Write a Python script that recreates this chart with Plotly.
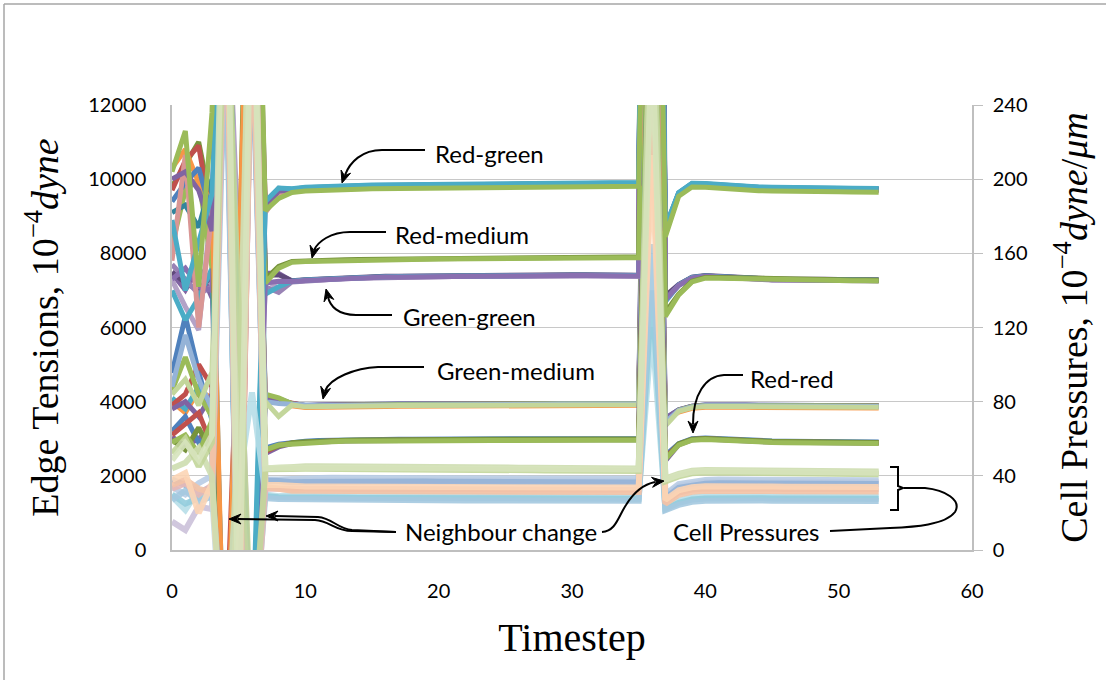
import math
import plotly.graph_objects as go

# ---------------- data ----------------
timesteps = list(range(54))
x_ticks = [0, 10, 20, 30, 40, 50, 60]
y_ticks = [0, 2000, 4000, 6000, 8000, 10000, 12000]
y2_ticks = [0, 40, 80, 120, 160, 200, 240]

# settled group profiles (edge tensions, 1e-4 dyne): t = 9..35 and t = 38..53
red_green_before = [9700, 9740, 9760, 9770, 9780, 9790, 9800, 9805, 9810, 9815, 9820, 9825, 9830, 9835,
                    9840, 9845, 9850, 9855, 9860, 9860, 9865, 9865, 9870, 9870, 9870, 9870, 9870]
red_green_after = [9600, 9850, 9840, 9810, 9790, 9770, 9750, 9740, 9730, 9730, 9730, 9720, 9720, 9715, 9710, 9710]
red_medium_before = [7780, 7800, 7810, 7820, 7830, 7835, 7840, 7845, 7850, 7855, 7860, 7865, 7870, 7875,
                     7880, 7880, 7885, 7890, 7890, 7895, 7900, 7900, 7900, 7905, 7900, 7900, 7900]
red_medium_after = [6900, 7250, 7350, 7350, 7340, 7330, 7320, 7310, 7300, 7290, 7290, 7290, 7285, 7280, 7280, 7275]
green_green_before = [7250, 7280, 7300, 7320, 7340, 7350, 7360, 7370, 7375, 7380, 7385, 7390, 7395, 7400,
                      7400, 7405, 7410, 7410, 7410, 7415, 7410, 7410, 7410, 7410, 7405, 7400, 7400]
green_green_after = [7150, 7350, 7390, 7380, 7360, 7340, 7320, 7300, 7290, 7280, 7290, 7290, 7285, 7280, 7280, 7275]
green_medium_before = [3930, 3880, 3890, 3900, 3900, 3905, 3910, 3910, 3915, 3915, 3920, 3920, 3920, 3925,
                       3925, 3925, 3930, 3930, 3930, 3930, 3935, 3935, 3935, 3935, 3940, 3940, 3940]
green_medium_after = [3760, 3860, 3890, 3900, 3895, 3890, 3885, 3880, 3880, 3875, 3875, 3875, 3870, 3870, 3870, 3870]
red_red_before = [2880, 2910, 2930, 2940, 2950, 2955, 2960, 2960, 2965, 2965, 2970, 2970, 2970, 2975,
                  2975, 2975, 2975, 2980, 2980, 2980, 2980, 2980, 2980, 2980, 2980, 2980, 2980]
red_red_after = [2850, 2980, 3000, 2980, 2960, 2940, 2930, 2920, 2915, 2910, 2905, 2900, 2900, 2895, 2890, 2890]

# cell pressure profiles (1e-4 dyne/um)
p_green_before = [44.5, 44.6, 44.6, 44.5, 44.5, 44.4, 44.4, 44.3, 44.3, 44.2, 44.2, 44.1, 44.1, 44.0,
                  44.0, 43.9, 43.9, 43.8, 43.8, 43.7, 43.7, 43.6, 43.6, 43.5, 43.5, 43.4, 43.4]
p_green_after = [40.5, 42.2, 42.6, 42.5, 42.3, 42.2, 42.1, 42.0, 41.9, 41.9, 41.8, 41.8, 41.8, 41.7, 41.7, 41.7]
p_lavender_before = [37.5, 37.7, 37.8, 37.9, 37.9, 38.0, 38.0, 38.0, 37.9, 37.9, 37.9, 37.8, 37.8, 37.8,
                     37.7, 37.7, 37.7, 37.7, 37.6, 37.6, 37.6, 37.6, 37.5, 37.5, 37.5, 37.5, 37.4]
p_lavender_after = [34.5, 36.0, 36.8, 37.0, 37.0, 36.9, 36.9, 36.8, 36.8, 36.7, 36.7, 36.7, 36.6, 36.6, 36.6, 36.6]
p_peach_before = [33.2, 33.1, 33.0, 33.0, 32.9, 32.9, 32.9, 32.8, 32.8, 32.8, 32.8, 32.7, 32.7, 32.7,
                  32.7, 32.7, 32.6, 32.6, 32.6, 32.6, 32.6, 32.5, 32.5, 32.5, 32.5, 32.5, 32.5]
p_peach_after = [31.0, 32.6, 33.2, 33.3, 33.2, 33.1, 33.0, 33.0, 32.9, 32.9, 32.9, 32.8, 32.8, 32.8, 32.8, 32.8]
p_blue_before = [28.6, 28.4, 28.3, 28.2, 28.2, 28.1, 28.1, 28.0, 28.0, 28.0, 28.0, 27.9, 27.9, 27.9,
                 27.9, 27.9, 27.8, 27.8, 27.8, 27.8, 27.8, 27.8, 27.7, 27.7, 27.7, 27.7, 27.7]
p_blue_after = [25.5, 27.2, 27.8, 28.0, 28.0, 27.9, 27.9, 27.8, 27.8, 27.8, 27.7, 27.7, 27.7, 27.7, 27.6, 27.6]

# individual series: (colour, values t=0..8, offset, value t=36, value t=37)
green_medium_series = [
    ("#F79646", [4000, 3700, 4300, 4100, -4000, 3000, 17000, 4100, 4050], -40, 22000, 3500),
    ("#4F81BD", [4770, 6300, 4800, 3500, 18000, 7000, -5000, 4150, 4080], 20, 26000, 3550),
    ("#4BACC6", [4100, 3800, 4400, 3900, 15000, -4000, 19000, 4050, 4000], 0, 21000, 3450),
    ("#C0504D", [3900, 4200, 5000, 4400, -3000, 6500, 16000, 4100, 4020], 10, 24000, 3500),
    ("#8064A2", [3800, 4000, 3600, 4200, 13000, 3500, -6000, 4050, 4000], 20, 28000, 3550),
    ("#9BBB59", [4300, 5200, 4200, 3600, 20000, 4500, -4000, 4200, 4100], 10, 23000, 3400),
    ("#95B3D7", [4400, 5800, 4600, 3800, 14000, -3000, 15000, 4000, 3950], 0, 20000, 3450),
    ("#C3D69B", [4200, 4600, 3900, 4800, 17000, 6000, -3000, 4000, 3600], -20, 19000, 3350),
]
red_red_series = [
    ("#8064A2", [3055, 2800, 3000, 3300, -3000, 2500, 14000, 2600, 2780], -10, 23000, 2400),
    ("#4F81BD", [3200, 3600, 2900, 3100, 16000, 5000, -4000, 2750, 2850], 20, 21000, 2550),
    ("#C0504D", [3100, 3400, 3700, 2800, 19000, -5000, 15000, 2650, 2820], 0, 19000, 2500),
    ("#77933C", [2970, 2700, 3300, 2600, -5000, 3500, 18000, 2700, 2800], 10, 18000, 2450),
    ("#9BBB59", [2900, 3100, 2600, 3500, 15000, 6000, -5000, 2700, 2830], -20, 17000, 2450),
]
green_green_series = [
    ("#8064A2", [7460, 7010, 7640, 6800, 22000, -4000, 25000, 7470, 7460], 0, 70000, 6800),
    ("#B3A2C7", [7280, 6560, 5930, 9350, 17000, 8000, -4000, 7300, 7050], -10, 60000, 6700),
    ("#604A7B", [7500, 7200, 7000, 7400, -6000, 6000, 20000, 7400, 7420], 10, 80000, 6850),
    ("#9983B5", [7700, 7300, 6900, 7100, 19000, -3000, 16000, 7100, 6950], -20, 55000, 6750),
    ("#4BACC6", [7000, 6200, 6800, 7600, -4000, 4000, 15000, 6900, 7100], 0, 30000, 6700),
    ("#8A6FB0", [7300, 7600, 7100, 7000, 16000, 5500, -3000, 7200, 7250], -10, 65000, 6750),
]
red_medium_series = [
    ("#77933C", [9800, 10400, 11000, 9200, -7000, 6500, 24000, 7300, 7650], 0, 32000, 6400),
    ("#9BBB59", [8200, 9700, 10000, 7600, 22000, -2000, 20000, 7200, 7600], -20, 28000, 6300),
]
red_green_series = [
    ("#31859C", [9100, 9300, 8700, 10000, -6000, 6000, 16000, 9300, 9750], 30, 36000, 8700),
    ("#C0504D", [9700, 10500, 10900, 8800, 23000, -4000, 17000, 9200, 9700], 10, 30000, 8600),
    ("#F79646", [10300, 10800, 9900, 9400, -5000, 7000, 20000, 9300, 9650], 0, 26000, 8500),
    ("#4F81BD", [9400, 9900, 10300, 9000, 21000, 1500, -4000, 9350, 9700], 20, 34000, 8650),
    ("#D99694", [7800, 10650, 6000, 9100, 16000, -3000, 18000, 9100, 9600], -20, 24000, 8550),
    ("#8064A2", [10000, 10200, 9700, 8600, 19000, -6000, 22000, 9250, 9680], 0, 40000, 8600),
    ("#4BACC6", [8900, 7000, 8300, 9600, 18000, 5000, -3000, 9400, 9760], 40, 38000, 8700),
    ("#9BBB59", [10200, 11300, 7100, 11800, 25000, -2000, 24000, 9150, 9480], -60, 28000, 8450),
]
pressure_series = [
    ("#CCC1DA", [15.3, 10.8, 23.4, 22, 330, -50, 290, 37, 37.5], 0.0, 290, 29, "lav"),
    ("#B9CDE5", [34, 30, 36, 40, 300, 60, -60, 38, 38], 1.0, 320, 30, "lav"),
    ("#95B3D7", [38, 35, 31, 34, -60, 50, 280, 37.5, 37.2], -1.0, 260, 28, "lav"),
    ("#B7DEE8", [28.8, 21.6, 32.4, 30, -80, 35, 85, 30, 29], 1.2, 120, 23, "blue"),
    ("#93CDDD", [30, 25, 28, 33, 320, 30, -60, 29, 28.5], 0.0, 140, 22, "blue"),
    ("#A5C9E0", [27, 32, 26, 29, 280, -40, 300, 28, 27.5], -1.2, 165, 21.5, "blue"),
    ("#E6B9B8", [33, 36, 30, 35, 300, 40, -70, 33, 33], 0.0, 250, 26, "peach"),
    ("#F4C3A6", [35, 38, 33, 31, 340, -60, 300, 34, 33], -1.2, 235, 25, "peach"),
    ("#FCD5B5", [37.8, 41.5, 19.9, 36, -80, 30, 380, 35, 35], 1.2, 213, 27, "peach"),
    ("#CEDDB0", [44, 47, 55, 40, -80, 70, 360, 44, 44.2], 0.6, 300, 38.5, "green"),
    ("#C3D69B", [52, 60, 45, 58, 320, 120, -60, 43.5, 44], -0.8, 340, 37, "green"),
    ("#D7E4BD", [48.5, 57.7, 48.5, 62, 380, -50, 340, 44, 44.5], 0.0, 280, 38, "green"),
]
pressure_profiles = {
    "green": (p_green_before, p_green_after),
    "lav": (p_lavender_before, p_lavender_after),
    "peach": (p_peach_before, p_peach_after),
    "blue": (p_blue_before, p_blue_after),
}

# ---------------- layout geometry ----------------
W, H = 1106, 680
ML, MR, MT, MB = 172, 134, 105, 130
PW, PH = W - ML - MR, H - MT - MB
X_RANGE = [0, 60]
Y_RANGE = [0, 12000]
Y2_RANGE = [0, 240]


def dx(px):
    return X_RANGE[0] + (px - ML) / PW * (X_RANGE[1] - X_RANGE[0])


def dy(py):
    return Y_RANGE[0] + (MT + PH - py) / PH * (Y_RANGE[1] - Y_RANGE[0])


def build(early, off, peak, dip, before, after):
    return list(early) + [v + off for v in before] + [peak, dip] + [v + off for v in after]


fig = go.Figure()

tension_groups = [
    (green_medium_series, green_medium_before, green_medium_after),
    (red_red_series, red_red_before, red_red_after),
    (green_green_series, green_green_before, green_green_after),
    (red_medium_series, red_medium_before, red_medium_after),
    (red_green_series, red_green_before, red_green_after),
]
for series, before, after in tension_groups:
    for colour, early, off, peak, dip in series:
        fig.add_trace(go.Scatter(
            x=timesteps, y=build(early, off, peak, dip, before, after),
            mode="lines", line=dict(color=colour, width=5),
            showlegend=False, hoverinfo="skip"))

for colour, early, off, peak, dip, grp in pressure_series:
    before, after = pressure_profiles[grp]
    fig.add_trace(go.Scatter(
        x=timesteps, y=build(early, off, peak, dip, before, after),
        yaxis="y2", mode="lines", line=dict(color=colour, width=6),
        opacity=0.9, showlegend=False, hoverinfo="skip"))

# ---------------- annotations: labels, curved arrows ----------------
label_font = dict(family="Lato, Open Sans, sans-serif", size=24, color="#000000")
labels = [
    ("Red-green", 489, 153),
    ("Red-medium", 462, 234),
    ("Green-green", 469, 316),
    ("Green-medium", 516, 370),
    ("Red-red", 792, 378),
    ("Neighbour change", 501, 531),
    ("Cell Pressures", 746, 531),
]
annotations = []
for txt, px, py in labels:
    annotations.append(dict(text=txt, x=dx(px), y=dy(py), xref="x", yref="y",
                            showarrow=False, font=label_font,
                            xanchor="center", yanchor="middle"))

# curve paths in pixel coordinates (converted to data coordinates)
curves = [
    [("M", 425, 150), ("L", 382, 150), ("C", 362, 150, 350, 162, 345, 175)],
    [("M", 386, 232), ("L", 350, 232), ("C", 330, 232, 318, 242, 314, 250)],
    [("M", 392, 315), ("L", 356, 315), ("C", 338, 315, 330, 306, 328, 297)],
    [("M", 424, 367), ("L", 378, 367), ("C", 355, 368, 330, 378, 325, 391)],
    [("M", 743, 375), ("L", 724, 375), ("C", 705, 376, 693, 395, 693, 424)],
    [("M", 396, 532), ("L", 352, 531), ("C", 335, 531, 330, 521, 315, 520), ("L", 238, 519)],
    [("M", 396, 532), ("L", 352, 530), ("C", 338, 529, 332, 518, 318, 517), ("L", 275, 516)],
    [("M", 602, 532), ("C", 616, 531, 618, 517, 626, 505), ("C", 634, 492, 645, 484, 655, 482)],
    [("M", 830, 531), ("L", 890, 528), ("C", 915, 527, 945, 525, 955, 512),
     ("C", 962, 500, 945, 490, 925, 488), ("L", 904, 488)],
    [("M", 890, 467), ("L", 898, 467), ("L", 898, 486), ("L", 903, 488), ("L", 898, 490),
     ("L", 898, 510), ("L", 890, 510)],
]


def path_str(cmds):
    parts = []
    for c in cmds:
        pts = c[1:]
        coords = []
        for i in range(0, len(pts), 2):
            coords.append(f"{dx(pts[i]):.4f},{dy(pts[i + 1]):.2f}")
        parts.append(c[0] + " " + " ".join(coords))
    return " ".join(parts)


shapes = []
for cmds in curves:
    shapes.append(dict(type="path", path=path_str(cmds), xref="x", yref="y",
                       line=dict(color="#000000", width=2)))

# arrow heads (stealth style): tip pixel, point the arrow comes from
heads = [
    (342, 183, 345, 174),
    (312, 258, 314, 250),
    (326, 289, 328, 297),
    (323, 399, 325, 390),
    (693, 433, 693, 424),
    (229, 519, 238, 519),
    (266, 516, 275, 516),
    (664, 481, 655, 482),
]
HL, HW = 12, 5
for tx, ty, fx0, fy0 in heads:
    ux, uy = tx - fx0, ty - fy0
    n = math.hypot(ux, uy)
    ux, uy = ux / n, uy / n
    px_, py_ = -uy, ux
    pts = [
        (tx, ty),
        (tx - HL * ux + HW * px_, ty - HL * uy + HW * py_),
        (tx - 0.65 * HL * ux, ty - 0.65 * HL * uy),
        (tx - HL * ux - HW * px_, ty - HL * uy - HW * py_),
    ]
    p = "M " + " L ".join(f"{dx(a):.4f},{dy(b):.2f}" for a, b in pts) + " Z"
    shapes.append(dict(type="path", path=p, xref="x", yref="y",
                       fillcolor="#000000", line=dict(color="#000000", width=1)))

# outer chart frame (left and top edges)
fx = lambda px: (px - ML) / PW
fy = lambda py: (MT + PH - py) / PH
shapes.append(dict(type="line", xref="paper", yref="paper", x0=fx(4), x1=fx(1110), y0=fy(4), y1=fy(4),
                   line=dict(color="#A6A6A6", width=1.5)))
shapes.append(dict(type="line", xref="paper", yref="paper", x0=fx(4), x1=fx(4), y0=fy(4), y1=fy(684),
                   line=dict(color="#A6A6A6", width=1.5)))

tick_font = dict(family="Lato, Open Sans, sans-serif", size=20, color="#000000")
title_font = dict(family="Liberation Serif, DejaVu Serif, serif", size=38, color="#000000")

fig.update_layout(
    width=W, height=H,
    margin=dict(l=ML, r=MR, t=MT, b=MB, pad=0),
    paper_bgcolor="#FFFFFF", plot_bgcolor="#FFFFFF",
    showlegend=False,
    annotations=annotations,
    shapes=shapes,
    xaxis=dict(range=X_RANGE, tickvals=x_ticks, ticktext=[str(v) for v in x_ticks],
               showgrid=False, zeroline=False, showline=True, linecolor="#BFBFBF", linewidth=1.5,
               ticks="", tickfont=tick_font, ticklabelstandoff=22,
               title=dict(text="Timestep", font=dict(family=title_font["family"], size=40, color="#000000"),
                          standoff=22)),
    yaxis=dict(range=Y_RANGE, tickvals=y_ticks, ticktext=[str(v) for v in y_ticks],
               showgrid=True, gridcolor="#C8C8C8", gridwidth=1, zeroline=False,
               showline=True, linecolor="#BFBFBF", linewidth=1.5, mirror=False,
               ticks="", tickfont=tick_font, ticklabelstandoff=20,
               title=dict(text="Edge Tensions, 10<sup>−4</sup><i>dyne</i>", font=title_font, standoff=18)),
    yaxis2=dict(range=Y2_RANGE, tickvals=y2_ticks, ticktext=[str(v) for v in y2_ticks],
                overlaying="y", side="right", showgrid=False, zeroline=False,
                showline=True, linecolor="#BFBFBF", linewidth=1.5,
                ticks="outside", ticklen=9, tickcolor="#BFBFBF", tickwidth=1,
                tickfont=tick_font, ticklabelstandoff=6,
                title=dict(text="Cell Pressures, 10<sup>−4</sup><i>dyne</i>/<i>μm</i>", font=title_font,
                           standoff=34)),
)

fig.write_html("out.html", config={"displayModeBar": False},
               post_script="document.body.style.margin='0';document.body.style.overflow='hidden';")
